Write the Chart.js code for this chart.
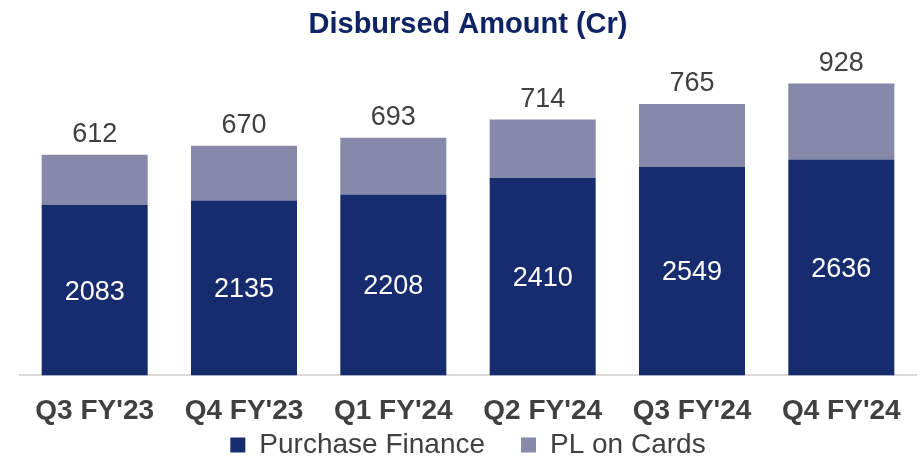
<!DOCTYPE html>
<html>
<head>
<meta charset="utf-8">
<script src="https://cdn.jsdelivr.net/npm/chart.js@4/dist/chart.umd.min.js"></script>
<style>
  html, body { margin: 0; padding: 0; background: #fff; }
  #wrap { width: 922px; height: 458px; }
</style>
</head>
<body>
<div id="wrap"><canvas id="chart" width="922" height="458"></canvas></div>
<script>
// quarters on the x axis
const quarters = ["Q3 FY'23", "Q4 FY'23", "Q1 FY'24", "Q2 FY'24", "Q3 FY'24", "Q4 FY'24"];
// disbursed amount, Cr
const purchaseFinance = [2083, 2135, 2208, 2410, 2549, 2636];
const plOnCards = [612, 670, 693, 714, 765, 928];

const navy = '#172b6f';
const lilac = '#8689a9';
const labelGrey = '#404040';
const fontFam = "'Liberation Sans', Arial, sans-serif";

// values written on the bars
const barLabels = {
  id: 'barLabels',
  afterDatasetsDraw(chart) {
    const ctx = chart.ctx;
    ctx.save();
    ctx.textAlign = 'center';
    ctx.font = '27px ' + fontFam;
    chart.getDatasetMeta(0).data.forEach((bar, i) => {
      ctx.fillStyle = '#ffffff';
      ctx.textBaseline = 'middle';
      ctx.fillText(purchaseFinance[i], bar.x, (bar.y + bar.base) / 2 + 2);
    });
    chart.getDatasetMeta(1).data.forEach((bar, i) => {
      ctx.fillStyle = labelGrey;
      ctx.textBaseline = 'alphabetic';
      ctx.fillText(plOnCards[i], bar.x, bar.y - 13);
    });
    ctx.restore();
  }
};

// legend padding is also the gap between items, so keep its box short
// for layout and then stretch it up under the axis labels for drawing
const tightLegend = {
  id: 'tightLegend',
  afterInit(chart) {
    const lg = chart.legend;
    const fit = lg.fit;
    lg.fit = function () {
      fit.call(this);
      this.height = 19;
    };
  },
  afterLayout(chart) {
    const lg = chart.legend;
    lg.top = lg.bottom - 63;
  }
};

new Chart(document.getElementById('chart'), {
  type: 'bar',
  data: {
    labels: quarters,
    datasets: [
      { label: 'Purchase Finance', data: purchaseFinance, backgroundColor: navy },
      { label: 'PL on Cards', data: plOnCards, backgroundColor: lilac }
    ]
  },
  options: {
    responsive: false,
    animation: false,
    layout: { padding: { left: 20, right: 6, top: 0, bottom: 0 } },
    datasets: { bar: { categoryPercentage: 1, barPercentage: 0.71 } },
    scales: {
      x: {
        stacked: true,
        grid: { display: false },
        border: { display: true, color: '#d9d9d9', width: 2 },
        ticks: { color: labelGrey, padding: 11, font: { family: fontFam, size: 28, weight: 'bold' } }
      },
      y: { stacked: true, display: false, min: 0, max: 4000 }
    },
    plugins: {
      title: {
        display: true,
        text: 'Disbursed Amount (Cr)',
        color: '#0e2464',
        font: { family: fontFam, size: 29, weight: 'bold' },
        padding: { top: 8, bottom: 5 }
      },
      legend: {
        position: 'bottom',
        labels: {
          color: labelGrey,
          boxWidth: 15,
          boxHeight: 15,
          padding: 36,
          font: { family: fontFam, size: 28 }
        }
      },
      tooltip: { enabled: false }
    }
  },
  plugins: [barLabels, tightLegend]
});
</script>
</body>
</html>
